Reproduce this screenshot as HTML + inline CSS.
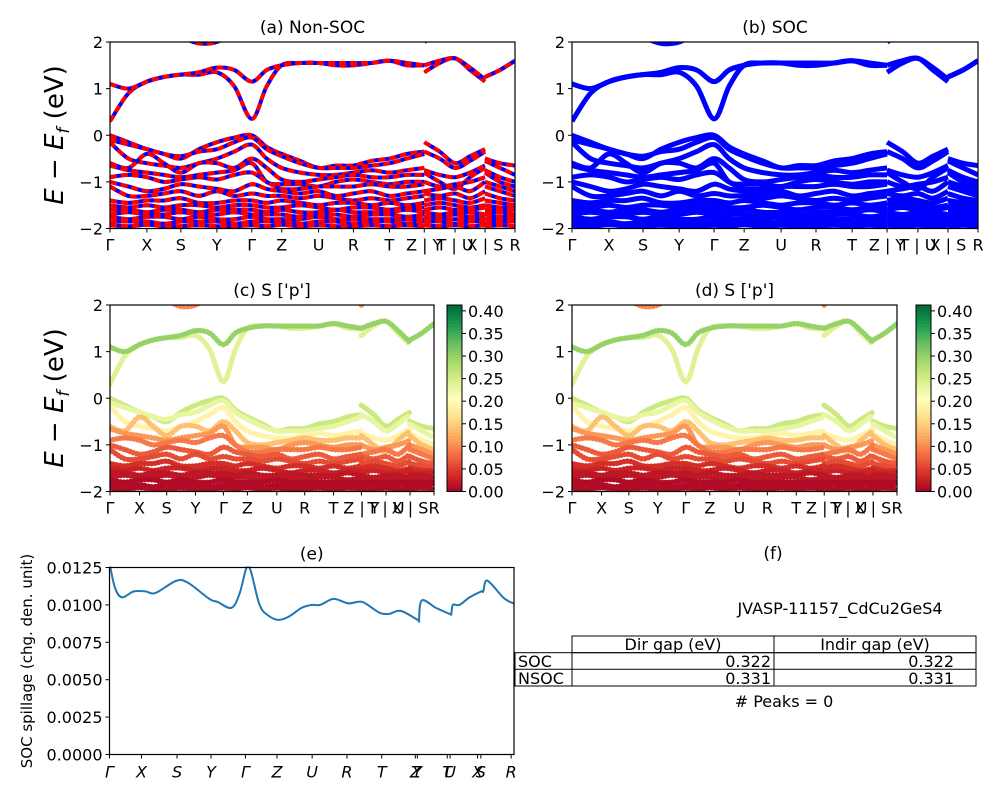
<!DOCTYPE html>
<html><head><meta charset="utf-8"><style>
body{margin:0;background:#fff;}
svg{display:block;font-family:"DejaVu Sans","Liberation Sans",sans-serif;}
</style></head><body>
<svg id="fig" width="1000" height="800" viewBox="0 0 1000 800"></svg>
<script>
// ---- data ----
const nodeLabels=["Γ","X","S","Y","Γ","Z","U","R","T","Z | Y","T | U","X | S","R"];
const nodeLabelsC=["Γ","X","S","Y","Γ","Z","U","R","T","Z | Y","T | U","X | S","R"];
const nodeFrac=[0,.091,.175,.264,.350,.424,.515,.601,.690,.776,.852,.926,1];
// k grid: A = indices 0..18 (Γ..Z), B = 19..23 (Y..X), C = 24..26 (S..R)
const kGrid=[0,.0455,.091,.133,.175,.2195,.264,.307,.350,.387,.424,.4695,.515,.558,.601,.6455,.690,.733,.776,
 .776,.814,.852,.889,.926, .926,.963,1];
const bands=[
[2.3,2.3,2.3,2.2,2.1,1.97,2.0,2.2,2.3,2.3,2.3,2.3,2.3,2.3,2.3,2.3,2.3,2.3,2.3, 2.0,2.2,2.3,2.3,2.3, 2.3,2.3,2.3],
[0.3,0.9,1.15,1.25,1.3,1.3,1.35,1.05,0.35,1.05,1.5,1.55,1.55,1.5,1.5,1.55,1.6,1.5,1.5, 1.35,1.55,1.65,1.4,1.15, 1.25,1.4,1.6],
[1.1,1.0,1.15,1.25,1.3,1.35,1.45,1.4,1.15,1.4,1.5,1.55,1.55,1.55,1.55,1.55,1.6,1.55,1.5, 1.5,1.6,1.65,1.45,1.2, 1.25,1.4,1.6],
[0.0,-0.15,-0.3,-0.4,-0.5,-0.3,-0.15,-0.05,0.0,-0.25,-0.4,-0.55,-0.7,-0.65,-0.65,-0.55,-0.5,-0.4,-0.35, -0.15,-0.35,-0.6,-0.45,-0.3, -0.5,-0.6,-0.65],
[-0.1,-0.2,-0.3,-0.4,-0.45,-0.35,-0.3,-0.15,-0.05,-0.3,-0.45,-0.6,-0.7,-0.7,-0.7,-0.65,-0.6,-0.5,-0.4, -0.35,-0.5,-0.7,-0.55,-0.35, -0.55,-0.7,-0.85],
[-0.15,-0.5,-0.6,-0.65,-0.7,-0.6,-0.5,-0.35,-0.2,-0.5,-0.7,-0.8,-0.85,-0.85,-0.8,-0.75,-0.8,-0.75,-0.7, -0.75,-0.85,-0.9,-0.8,-0.65, -0.75,-0.9,-1.0],
[-0.6,-0.7,-0.4,-0.6,-0.8,-0.6,-0.6,-0.7,-0.5,-0.7,-0.95,-1.0,-0.95,-0.9,-0.85,-0.9,-0.9,-0.85,-0.85, -0.8,-1.0,-1.15,-0.9,-0.7, -0.8,-1.0,-1.1],
[-0.65,-0.75,-0.8,-0.85,-0.9,-0.85,-0.8,-0.75,-0.6,-1.0,-1.05,-1.05,-1.1,-1.0,-0.95,-1.0,-1.05,-1.0,-1.0, -1.0,-1.1,-1.05,-1.0,-0.9, -1.0,-1.1,-1.2],
[-0.9,-0.85,-0.9,-1.0,-0.95,-0.9,-0.95,-0.85,-0.8,-1.0,-1.15,-1.15,-1.1,-1.1,-1.1,-1.05,-1.1,-1.1,-1.05, -1.2,-1.15,-1.1,-1.2,-1.0, -1.1,-1.2,-1.3],
[-1.0,-1.1,-1.2,-1.15,-1.05,-1.1,-1.15,-1.2,-1.05,-1.15,-1.2,-1.25,-1.2,-1.3,-1.25,-1.2,-1.3,-1.25,-1.2, -1.25,-1.3,-1.25,-1.35,-1.2, -1.25,-1.35,-1.4],
[-1.1,-1.3,-1.3,-1.25,-1.2,-1.3,-1.2,-1.3,-1.25,-1.3,-1.3,-1.35,-1.3,-1.35,-1.4,-1.35,-1.4,-1.35,-1.3, -1.4,-1.35,-1.4,-1.45,-1.35, -1.4,-1.45,-1.5],
[-1.4,-1.45,-1.4,-1.4,-1.35,-1.45,-1.45,-1.4,-1.4,-1.45,-1.4,-1.45,-1.5,-1.45,-1.45,-1.5,-1.45,-1.5,-1.45, -1.5,-1.45,-1.5,-1.55,-1.5, -1.5,-1.55,-1.55],
[-1.5,-1.55,-1.5,-1.55,-1.5,-1.5,-1.55,-1.5,-1.5,-1.55,-1.55,-1.5,-1.55,-1.6,-1.55,-1.55,-1.6,-1.55,-1.55, -1.6,-1.55,-1.6,-1.6,-1.55, -1.6,-1.6,-1.6],
[-1.6,-1.6,-1.65,-1.6,-1.6,-1.65,-1.6,-1.6,-1.6,-1.65,-1.6,-1.65,-1.65,-1.6,-1.65,-1.65,-1.65,-1.6,-1.65, -1.65,-1.7,-1.65,-1.65,-1.7, -1.65,-1.65,-1.7],
[-1.7,-1.65,-1.7,-1.7,-1.65,-1.7,-1.7,-1.65,-1.7,-1.7,-1.7,-1.75,-1.7,-1.7,-1.75,-1.7,-1.7,-1.75,-1.7, -1.75,-1.75,-1.7,-1.75,-1.75, -1.7,-1.75,-1.75],
[-1.75,-1.8,-1.75,-1.75,-1.8,-1.75,-1.8,-1.8,-1.75,-1.8,-1.8,-1.8,-1.75,-1.8,-1.8,-1.8,-1.8,-1.8,-1.8, -1.8,-1.8,-1.8,-1.8,-1.8, -1.8,-1.8,-1.8],
[-1.85,-1.85,-1.85,-1.9,-1.85,-1.85,-1.85,-1.9,-1.85,-1.85,-1.85,-1.9,-1.85,-1.85,-1.9,-1.85,-1.85,-1.9,-1.85, -1.85,-1.85,-1.9,-1.85,-1.85, -1.9,-1.85,-1.85],
[-1.93,-1.95,-1.92,-1.95,-1.95,-1.93,-1.95,-1.95,-1.93,-1.95,-1.92,-1.95,-1.93,-1.95,-1.95,-1.93,-1.95,-1.93,-1.95, -1.93,-1.95,-1.93,-1.95,-1.93, -1.95,-1.93,-1.95]
];
const bandWeight=[0.1,0.24,0.3,0.26,0.23,0.19,0.14,0.11,0.09,0.07,0.06,0.04,0.03,0.02,0.02,0.01,0.01,0.01];
const energyTicks=[2,1,0,-1,-2];
const cbarTicks=[0,0.05,0.1,0.15,0.2,0.25,0.3,0.35,0.4];
const cbarMax=0.413;
const spillK=[0,.002,.014,.031,.060,.089,.114,.164,.193,.247,.267,.301,.321,.339,.350,.371,.392,.417,.442,.475,.500,.521,.554,.591,.625,.666,.691,.720,.762,.765,.772,.807,.841,.845,.849,.865,.890,.919,.924,.930,.944,.973,.990,1];
const spillV=[.0126,.0125,.0111,.0105,.0109,.0109,.0108,.0116,.0115,.0104,.0102,.0098,.0107,.0125,.0122,.0100,.0093,.0090,.0092,.0098,.0100,.0100,.0104,.0101,.0102,.0095,.0094,.0096,.0090,.0090,.0103,.0098,.0094,.0094,.0100,.0100,.0105,.0109,.0109,.0116,.0114,.0105,.0102,.0101];
const spillTicks=[0,0.0025,0.005,0.0075,0.01,0.0125];
const spillTickLabels=["0.0000","0.0025","0.0050","0.0075","0.0100","0.0125"];
const spillNodeFrac=[0,.079,.167,.251,.336,.414,.501,.587,.673,.756,.761,.835,.842,.910,.918,.993];
const spillNodeLabels=["Γ","X","S","Y","Γ","Z","U","R","T","Z","Y","T","U","X","S","R"];

// ---- helpers ----
const NS="http://www.w3.org/2000/svg";
const fig=document.getElementById('fig');
function mk(tag,attrs,parent){const e=document.createElementNS(NS,tag);for(const k in attrs)e.setAttribute(k,attrs[k]);(parent||fig).appendChild(e);return e;}
function txt(s,x,y,attrs,parent){const t=mk('text',Object.assign({x:x,y:y},attrs||{}),parent);t.textContent=s;return t;}
function smooth(pts){
  if(pts.length<2)return '';
  let d='M'+pts[0][0].toFixed(1)+','+pts[0][1].toFixed(1);
  for(let i=0;i<pts.length-1;i++){
    const p0=pts[Math.max(0,i-1)],p1=pts[i],p2=pts[i+1],p3=pts[Math.min(pts.length-1,i+2)];
    const c1=[p1[0]+(p2[0]-p0[0])/6,p1[1]+(p2[1]-p0[1])/6],c2=[p2[0]-(p3[0]-p1[0])/6,p2[1]-(p3[1]-p1[1])/6];
    d+='C'+c1[0].toFixed(1)+','+c1[1].toFixed(1)+' '+c2[0].toFixed(1)+','+c2[1].toFixed(1)+' '+p2[0].toFixed(1)+','+p2[1].toFixed(1);
  }
  return d;
}
const cmapStops=["#a50026","#d73027","#f46d43","#fdae61","#fee08b","#ffffbf","#d9ef8b","#a6d96a","#66bd63","#1a9850","#006837"];
function hex(c){return [parseInt(c.substr(1,2),16),parseInt(c.substr(3,2),16),parseInt(c.substr(5,2),16)];}
function cmap(t){t=Math.max(0,Math.min(1,t))*10;const i=Math.min(9,Math.floor(t)),f=t-i;const a=hex(cmapStops[i]),b=hex(cmapStops[i+1]);
  return 'rgb('+a.map((v,j)=>Math.round(v+(b[j]-v)*f)).join(',')+')';}
const segs=[[0,19],[19,24],[24,27]];
let clipId=0;

function bandPanel(name,x0,x1,y0,y1,mode,title,labels){
  const g=mk('g',{});
  
  
  const sx=k=>x0+k*(x1-x0), sy=e=>y1-(e+2)/4*(y1-y0);
  const cid='clip'+(clipId++);
  const cp=mk('clipPath',{id:cid},g);mk('rect',{x:x0,y:y0,width:x1-x0,height:y1-y0},cp);
  const pg=mk('g',{'clip-path':'url(#'+cid+')'},g);
  bands.forEach((b,bi)=>{
    segs.forEach(s=>{
      const pts=[];for(let i=s[0];i<s[1];i++)pts.push([sx(kGrid[i]),sy(b[i])]);
      const d=smooth(pts);
      if(mode==='nonsoc'){
        const p1=mk('path',{d:d,fill:'none',stroke:'#0000ff','stroke-width':4},pg);
        
        const p2=mk('path',{d:d,fill:'none',stroke:'#ff0000','stroke-width':4,'stroke-dasharray':'7,4'},pg);
        
      }else if(mode==='soc'){
        const p=mk('path',{d:d,fill:'none',stroke:'#0000ff','stroke-width':5},pg);
        
      }else{
        const p=mk('path',{d:d,fill:'none',stroke:cmap(bandWeight[bi]/cbarMax),'stroke-width':5.5,'stroke-linecap':'round','stroke-dasharray':'0,3.5'},pg);
        
      }
    });
  });
  mk('rect',{x:x0,y:y0,width:x1-x0,height:y1-y0,fill:'none',stroke:'#000','stroke-width':1.2},g);
  energyTicks.forEach(e=>{
    const y=sy(e);mk('line',{x1:x0-4,x2:x0,y1:y,y2:y,stroke:'#000'},g);
    const t=txt((e<0?'−':'')+Math.abs(e),x0-7,y+6,{'font-size':16,'text-anchor':'end'},g);
    
  });
  nodeFrac.forEach((k,i)=>{
    const x=sx(k);mk('line',{x1:x,x2:x,y1:y1,y2:y1+4,stroke:'#000'},g);
    const t=txt(labels[i],x,y1+22,{'font-size':16,'text-anchor':'middle'},g);
    
  });
  const tt=txt(title,(x0+x1)/2,y0-9,{'font-size':17,'text-anchor':'middle'},g);
  
}
function colorbar(name,x0,y0,y1){
  const g=mk('g',{});
  const n=60,h=(y1-y0)/n;
  for(let i=0;i<n;i++)mk('rect',{x:x0,y:y1-(i+1)*h,width:15,height:h+0.5,fill:cmap((i+0.5)/n)},g);
  mk('rect',{x:x0,y:y0,width:15,height:y1-y0,fill:'none',stroke:'#000'},g);
  cbarTicks.forEach(v=>{const y=y1-v/cbarMax*(y1-y0);mk('line',{x1:x0+15,x2:x0+19,y1:y,y2:y,stroke:'#000'},g);
    const t=txt(v.toFixed(2),x0+21,y+6,{'font-size':16},g);});
}
function ylabel(y){
  const t=mk('text',{transform:'translate(63,'+y+') rotate(-90)','font-size':26,'text-anchor':'middle'});
  
  t.innerHTML='<tspan font-style="italic">E</tspan> − <tspan font-style="italic">E</tspan><tspan font-style="italic" font-size="17" dy="6">f</tspan><tspan dy="-6"> (eV)</tspan>';
}

bandPanel('panel-a-nonsoc',110,515,42,228.5,'nonsoc','(a) Non-SOC',nodeLabels);
bandPanel('panel-b-soc',572,978,42,228.5,'soc','(b) SOC',nodeLabels);
bandPanel('panel-c-projection',110,434,305,491.5,'proj','(c)  S [\'p\']',nodeLabelsC);
bandPanel('panel-d-projection',572,897,305,491.5,'proj','(d) S [\'p\']',nodeLabelsC);
colorbar('colorbar-c',447,305,491.5);
colorbar('colorbar-d',916,305,491.5);
ylabel(135);ylabel(398);

// panel e
(function(){
  const x0=109.5,x1=514,y0=567.5,y1=754.5;
  const g=mk('g',{});
  const sx=k=>x0+k*(x1-x0),sy=v=>y1-v/0.0125*(y1-y0);
  const cp=mk('clipPath',{id:'clipE'},g);mk('rect',{x:x0,y:y0-1,width:x1-x0,height:y1-y0+1},cp);
  const pts=spillK.map((k,i)=>[sx(k),sy(spillV[i])]);
  const p=mk('path',{d:smooth(pts),fill:'none',stroke:'#1f77b4','stroke-width':2,'clip-path':'url(#clipE)'},g);
  
  mk('rect',{x:x0,y:y0,width:x1-x0,height:y1-y0,fill:'none',stroke:'#000','stroke-width':1.2},g);
  spillTicks.forEach((v,i)=>{const y=sy(v);mk('line',{x1:x0-4,x2:x0,y1:y,y2:y,stroke:'#000'},g);
    const t=txt(spillTickLabels[i],x0-7,y+6,{'font-size':16,'text-anchor':'end'},g);});
  spillNodeFrac.forEach((k,i)=>{const x=sx(k);mk('line',{x1:x,x2:x,y1:y1,y2:y1+4,stroke:'#000'},g);
    const t=txt(spillNodeLabels[i],x,y1+23,{'font-size':16,'text-anchor':'middle','font-style':'italic'},g);});
  const tt=txt('(e)',(x0+x1)/2,y0-8,{'font-size':17,'text-anchor':'middle'},g);
  const yl=mk('text',{transform:'translate(32,661) rotate(-90)','font-size':15,'text-anchor':'middle'},g);
  yl.textContent='SOC spillage (chg. den. unit)';
})();

// panel f
(function(){
  const g=mk('g',{});
  const t0=txt('(f)',773,559,{'font-size':17,'text-anchor':'middle'},g);
  const t1=txt('JVASP-11157_CdCu2GeS4',840,614,{'font-size':16,'text-anchor':'middle'},g);
  mk('rect',{x:572,y:636,width:404,height:16.7,fill:'none',stroke:'#000'},g);
  mk('line',{x1:774,x2:774,y1:636,y2:686,stroke:'#000'},g);
  mk('rect',{x:515,y:652.7,width:461,height:33.3,fill:'none',stroke:'#000'},g);
  mk('line',{x1:515,x2:976,y1:669.3,y2:669.3,stroke:'#000'},g);
  mk('line',{x1:572,x2:572,y1:652.7,y2:686,stroke:'#000'},g);
  const hd=[['Dir gap (eV)',673],['Indir gap (eV)',875]];
  hd.forEach(h=>{const t=txt(h[0],h[1],650,{'font-size':16,'text-anchor':'middle'},g);});
  [['SOC','0.322','0.322',667],['NSOC','0.331','0.331',684]].forEach(r=>{
    const a=txt(r[0],518,r[3],{'font-size':16},g);
    const b=txt(r[1],771,r[3],{'font-size':16,'text-anchor':'end'},g);
    const c=txt(r[2],954,r[3],{'font-size':16,'text-anchor':'end'},g);
  });
  const pk=txt('# Peaks = 0',784,707,{'font-size':16,'text-anchor':'middle'},g);
})();
</script>
</body></html>
